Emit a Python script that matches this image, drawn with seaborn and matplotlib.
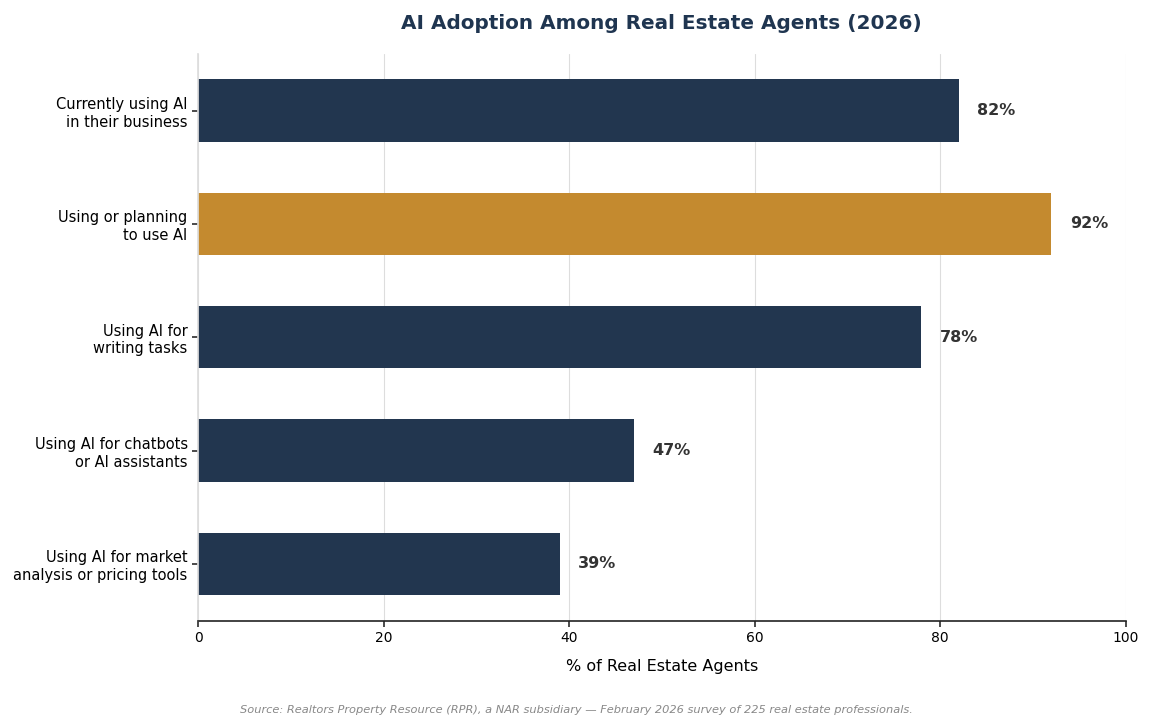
import matplotlib
matplotlib.use("Agg")
import matplotlib.pyplot as plt
import seaborn as sns
import pandas as pd

categories = [
    "Currently using AI\nin their business",
    "Using or planning\nto use AI",
    "Using AI for\nwriting tasks",
    "Using AI for chatbots\nor AI assistants",
    "Using AI for market\nanalysis or pricing tools",
]
values = [82, 92, 78, 47, 39]
highlight = [False, True, False, False, False]

NAVY = "#22364f"
GOLD = "#c48a2f"

sns.set_theme(style="white")
plt.rcParams['font.family'] = ['DejaVu Sans']

df = pd.DataFrame({"cat": categories, "val": values,
                   "hl": ["hl" if h else "base" for h in highlight]})

fig, ax = plt.subplots(figsize=(11.52, 7.2), dpi=100)
fig.subplots_adjust(left=0.172, right=0.977, top=0.925, bottom=0.138)

sns.barplot(data=df, x="val", y="cat", hue="hl", palette={"base": NAVY, "hl": GOLD},
            width=0.55, dodge=False, legend=False, ax=ax, saturation=1,
            edgecolor="none", linewidth=0)

for i, v in enumerate(values):
    ax.text(v + 2, i, f"{v}%", va="center", ha="left", fontsize=11.5,
            fontweight="bold", color="#333333")

ax.set_xlim(0, 100)
ax.set_xticks([0, 20, 40, 60, 80, 100])
ax.xaxis.grid(True, color="#dddddd", linewidth=0.8)
ax.set_axisbelow(True)
ax.set_ylabel("")
ax.set_xlabel("% of Real Estate Agents", fontsize=11.5, labelpad=10, color="black")
ax.tick_params(axis="y", labelsize=10.5, length=4, left=True, color="#333333",
               labelcolor="black")
ax.tick_params(axis="x", labelsize=10, length=4, bottom=True, color="#333333",
               labelcolor="black")
for s in ["top", "right"]:
    ax.spines[s].set_visible(False)
ax.spines["left"].set_color("#dddddd")
ax.spines["bottom"].set_color("#222222")
ax.spines["bottom"].set_linewidth(1.2)

ax.set_title("AI Adoption Among Real Estate Agents (2026)", fontsize=14.4,
             fontweight="bold", color="#1f3550", pad=18)

fig.text(0.5, 0.007, "Source: Realtors Property Resource (RPR), a NAR subsidiary \u2014 February 2026 survey of 225 real estate professionals.",
         ha="center", va="bottom", fontsize=8.2, style="italic", color="#888888")

fig.savefig("out.png", dpi=100)
